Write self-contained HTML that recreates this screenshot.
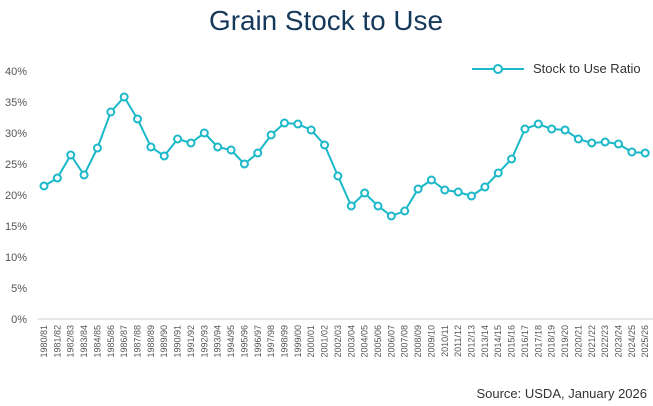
<!DOCTYPE html><html><head><style>body{margin:0;background:#fff}svg{display:block;font-family:"Liberation Sans",sans-serif}</style></head><body>
<svg width="653" height="406" xmlns="http://www.w3.org/2000/svg">
<text x="326" y="30" text-anchor="middle" font-size="28" fill="#15395b" textLength="234" lengthAdjust="spacingAndGlyphs">Grain Stock to Use</text>
<g font-size="11" fill="#555" text-anchor="end">
<text x="27" y="75">40%</text><text x="27" y="106">35%</text><text x="27" y="137">30%</text><text x="27" y="168">25%</text><text x="27" y="199">20%</text><text x="27" y="230">15%</text><text x="27" y="261">10%</text><text x="27" y="292">5%</text><text x="27" y="323">0%</text></g>
<line x1="38" y1="319" x2="653" y2="319" stroke="#ddd" stroke-width="1.5"/>
<g id="lbl" font-size="9" fill="#555" text-anchor="end"></g>
<g stroke="#1ab8c8" stroke-width="2" fill="none"><line x1="472" y1="69" x2="524" y2="69"/></g>
<circle cx="498" cy="69" r="4" fill="#fff" stroke="#1ab8c8" stroke-width="2"/>
<text x="533" y="73" font-size="13" fill="#333">Stock to Use Ratio</text>
<polyline id="ln" fill="none" stroke="#1ab8c8" stroke-width="2"/>
<g id="pts"></g>
<text x="647" y="398" text-anchor="end" font-size="13" fill="#333">Source: USDA, January 2026</text>
<script>
var ys=[186,178,155,175,148,112,97,119,147,156,139,143,133,147,150,164,153,135,123,124,130,145,176,206,193,206,216,211,189,180,190,192,196,187,173,159,129,124,129,130,139,143,142,144,152,153];
var ns="http://www.w3.org/2000/svg",p=[],g=document.getElementById('pts'),l=document.getElementById('lbl');
ys.forEach(function(y,i){var x=44+i*13.36;p.push(x+","+y);
var c=document.createElementNS(ns,'circle');c.setAttribute('cx',x);c.setAttribute('cy',y);c.setAttribute('r',3.5);c.setAttribute('fill','#fff');c.setAttribute('stroke','#1ab8c8');c.setAttribute('stroke-width','2');g.appendChild(c);
var a=1980+i,t=document.createElementNS(ns,'text');t.setAttribute('transform','translate('+(x+3)+',325) rotate(-90)');
t.textContent=a+"/"+String((a+1)%100).padStart(2,'0');l.appendChild(t);});
document.getElementById('ln').setAttribute('points',p.join(' '));
</script>
</svg></body></html>
